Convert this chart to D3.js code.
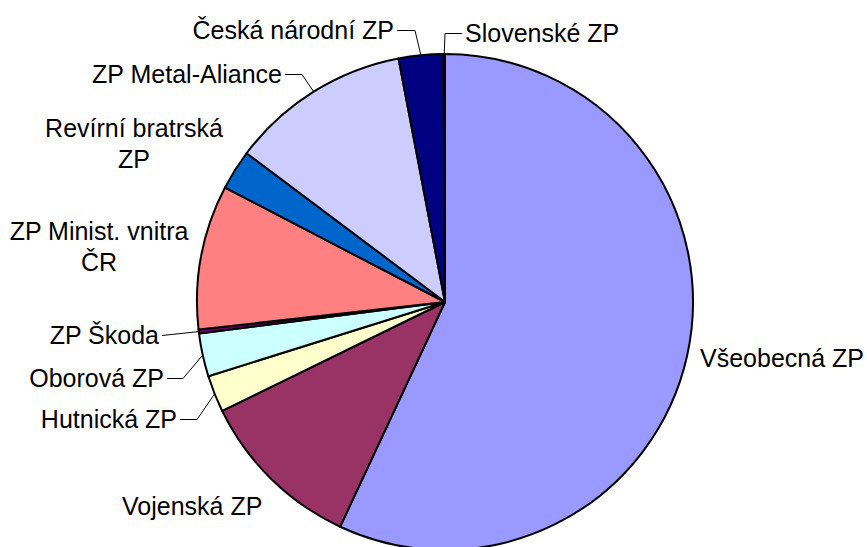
<!DOCTYPE html>
<html>
<head>
<meta charset="utf-8">
<script src="https://cdn.jsdelivr.net/npm/d3@7"></script>
<style>
  html, body { margin: 0; padding: 0; background: #fff; }
  svg { display: block; }
  .label { font-family: "Liberation Sans", Arial, sans-serif; font-size: 25px; fill: #000; }
  .leader { fill: none; stroke: #000; stroke-width: 1; }
</style>
</head>
<body>
<div id="chart"></div>
<script>
// categories (clockwise from 12 o'clock)
var categories = [
  "Všeobecná ZP", "Vojenská ZP", "Hutnická ZP", "Oborová ZP", "ZP Škoda",
  "ZP Minist. vnitra ČR", "Revírní bratrská ZP", "ZP Metal-Aliance",
  "Česká národní ZP", "Slovenské ZP"
];

// share of insured (%)
var shares = [56.9, 10.8, 2.4, 2.8, 0.26, 9.4, 2.6, 11.75, 2.9, 0.1];

// fill colours, in the same order
var colors = [
  "#9999FF", "#993366", "#FFFFCC", "#CCFFFF", "#660066",
  "#FF8080", "#0066CC", "#CCCCFF", "#000080", "#FF00FF"
];

// label placement: text lines, baseline position, anchor, leader elbow
var labelLayout = [
  {lines: ["Všeobecná ZP"], x: 700, y: 367, anchor: "start"},
  {lines: ["Vojenská ZP"], x: 122, y: 515, anchor: "start"},
  {lines: ["Hutnická ZP"], x: 177, y: 428, anchor: "end", leader: true, elbow: 197},
  {lines: ["Oborová ZP"], x: 164, y: 387, anchor: "end", leader: true, elbow: 183},
  {lines: ["ZP Škoda"], x: 159, y: 344, anchor: "end", leader: true, elbow: null},
  {lines: ["ZP Minist. vnitra", "ČR"], x: 99, y: 240, anchor: "middle"},
  {lines: ["Revírní bratrská", "ZP"], x: 134, y: 137, anchor: "middle"},
  {lines: ["ZP Metal-Aliance"], x: 282, y: 83, anchor: "end", leader: true, elbow: 302},
  {lines: ["Česká národní ZP"], x: 394, y: 39, anchor: "end", leader: true, elbow: 415},
  {lines: ["Slovenské ZP"], x: 465, y: 42, anchor: "start", leader: true, elbow: 445}
];

var width = 867, height = 547;
var cx = 445, cy = 302, radius = 248;
var lineHeight = 31;

var svg = d3.select("#chart").append("svg")
  .attr("width", width)
  .attr("height", height);

var g = svg.append("g")
  .attr("transform", "translate(" + cx + "," + cy + ")");

var data = categories.map(function (c, i) {
  return {name: c, value: shares[i], color: colors[i], layout: labelLayout[i]};
});

var pie = d3.pie()
  .sort(null)
  .value(function (d) { return d.value; });

var arcs = pie(data);

var arc = d3.arc().innerRadius(0).outerRadius(radius);
var edgeArc = d3.arc().innerRadius(radius).outerRadius(radius);

// slices
g.selectAll("path.slice")
  .data(arcs)
  .enter().append("path")
  .attr("class", "slice")
  .attr("d", arc)
  .attr("fill", function (d) { return d.data.color; })
  .attr("stroke", "#000")
  .attr("stroke-width", 2)
  .attr("stroke-linejoin", "round");

// labels (drawn in page coordinates)
var labels = svg.append("g");

arcs.forEach(function (d) {
  var lay = d.data.layout;
  var text = labels.append("text")
    .attr("class", "label")
    .attr("text-anchor", lay.anchor);
  lay.lines.forEach(function (line, i) {
    text.append("tspan")
      .attr("x", lay.x)
      .attr("y", lay.y + i * lineHeight)
      .text(line);
  });

  if (!lay.leader) return;

  // leader line: from label side, short horizontal, then to slice edge
  var len = text.node().getComputedTextLength();
  var midY = lay.y - 8.5;
  var startX;
  if (lay.anchor === "end") startX = lay.x + 3;
  else startX = lay.x - 3;
  var edge = edgeArc.centroid(d);
  var ex = cx + edge[0], ey = cy + edge[1];
  var pts = [[startX, midY]];
  if (lay.elbow != null) pts.push([lay.elbow, midY]);
  pts.push([ex, ey]);
  labels.append("path")
    .attr("class", "leader")
    .attr("d", d3.line()(pts));
});
</script>
</body>
</html>
